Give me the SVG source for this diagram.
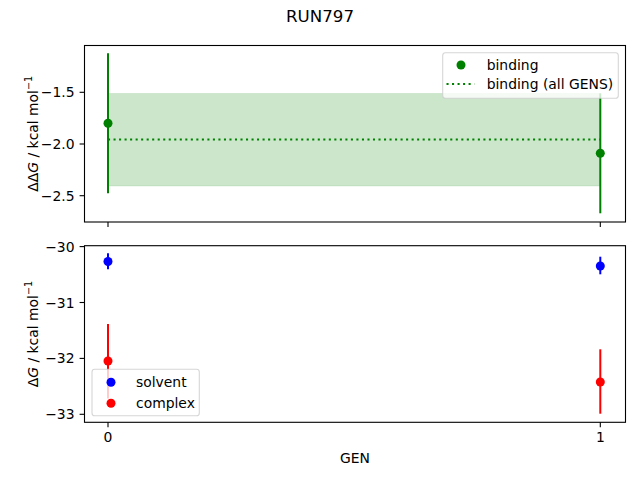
<svg xmlns="http://www.w3.org/2000/svg" width="640" height="480" viewBox="0 0 640 480">
<style>
text{font-family:"DejaVu Sans","Liberation Sans",sans-serif;font-size:13.9px;fill:#000}
.yt{text-anchor:end}
.xt{text-anchor:middle}
.frame{fill:none;stroke:#000;stroke-width:1.1}
.tick{stroke:#000;stroke-width:1.1}
.leg{fill:#fff;fill-opacity:0.8;stroke:#ccc;stroke-opacity:0.8;stroke-width:1.1}
.eb{stroke-width:2}
</style>
<rect width="640" height="480" fill="#fff"/>
<text x="320" y="21.5" text-anchor="middle" style="font-size:16.67px">RUN797</text>

<g id="top-axes">
  <rect x="108" y="93.5" width="492" height="92.5" fill="#008000" fill-opacity="0.2" stroke="#008000" stroke-opacity="0.1" stroke-width="1"/>
  <g id="top-data">
    <line class="eb" x1="108" y1="53.3" x2="108" y2="193.3" stroke="#008000"/>
    <line class="eb" x1="600.3" y1="93.3" x2="600.3" y2="213.3" stroke="#008000"/>
    <circle cx="108" cy="123.3" r="4.5" fill="#008000"/>
    <circle cx="600.3" cy="153.3" r="4.5" fill="#008000"/>
    <line x1="108" y1="139.5" x2="600.3" y2="139.5" stroke="#008000" stroke-width="2.08" stroke-dasharray="2.08 3.44"/>
  </g>
  <rect class="frame" x="84.5" y="45.5" width="541" height="176.5"/>
  <g class="tick">
    <line x1="84.5" y1="92.3" x2="79.6" y2="92.3"/>
    <line x1="84.5" y1="144" x2="79.6" y2="144"/>
    <line x1="84.5" y1="195.7" x2="79.6" y2="195.7"/>
    <line x1="108" y1="222" x2="108" y2="226.9"/>
    <line x1="600.3" y1="222" x2="600.3" y2="226.9"/>
  </g>
  <text class="yt" x="74.5" y="97.3">−1.5</text>
  <text class="yt" x="74.5" y="149">−2.0</text>
  <text class="yt" x="74.5" y="200.7">−2.5</text>
  <text transform="translate(37.5,133.7) rotate(-90)" text-anchor="middle">ΔΔ<tspan font-style="italic">G</tspan> / kcal mol<tspan dy="-6" style="font-size:9.7px">−1</tspan></text>
  <g id="top-legend">
    <rect class="leg" x="442.7" y="52.7" width="175.6" height="45.6" rx="2.8"/>
    <circle cx="461" cy="65" r="4.5" fill="#008000"/>
    <line x1="446.5" y1="84" x2="474.3" y2="84" stroke="#008000" stroke-width="2.08" stroke-dasharray="2.08 3.44"/>
    <text x="486.7" y="69.7">binding</text>
    <text x="486.7" y="89.3">binding (all GENS)</text>
  </g>
</g>

<g id="bottom-axes">
  <g id="bottom-data">
    <line class="eb" x1="108" y1="253.3" x2="108" y2="269.3" stroke="#0000ff"/>
    <line class="eb" x1="600.3" y1="256.7" x2="600.3" y2="274.3" stroke="#0000ff"/>
    <circle cx="108" cy="261.5" r="4.5" fill="#0000ff"/>
    <circle cx="600.3" cy="266" r="4.5" fill="#0000ff"/>
    <line class="eb" x1="108" y1="324" x2="108" y2="398.5" stroke="#ff0000"/>
    <line class="eb" x1="600.3" y1="349.3" x2="600.3" y2="413.7" stroke="#ff0000"/>
    <circle cx="108" cy="361" r="4.5" fill="#ff0000"/>
    <circle cx="600.3" cy="382" r="4.5" fill="#ff0000"/>
  </g>
  <rect class="frame" x="84.5" y="245.7" width="541" height="176.6"/>
  <g class="tick">
    <line x1="84.5" y1="246.6" x2="79.6" y2="246.6"/>
    <line x1="84.5" y1="302.5" x2="79.6" y2="302.5"/>
    <line x1="84.5" y1="358.4" x2="79.6" y2="358.4"/>
    <line x1="84.5" y1="414.3" x2="79.6" y2="414.3"/>
    <line x1="108" y1="422.3" x2="108" y2="427.2"/>
    <line x1="600.3" y1="422.3" x2="600.3" y2="427.2"/>
  </g>
  <text class="yt" x="74.5" y="251.6">−30</text>
  <text class="yt" x="74.5" y="307.5">−31</text>
  <text class="yt" x="74.5" y="363.4">−32</text>
  <text class="yt" x="74.5" y="419.3">−33</text>
  <text class="xt" x="108" y="442">0</text>
  <text class="xt" x="600.3" y="442">1</text>
  <text class="xt" x="355" y="462.5">GEN</text>
  <text transform="translate(37.5,334) rotate(-90)" text-anchor="middle">Δ<tspan font-style="italic">G</tspan> / kcal mol<tspan dy="-6" style="font-size:9.7px">−1</tspan></text>
  <g id="bottom-legend">
    <rect class="leg" x="92" y="369.3" width="107.3" height="46.4" rx="2.8"/>
    <circle cx="111" cy="382.3" r="4.5" fill="#0000ff"/>
    <circle cx="111" cy="403.3" r="4.5" fill="#ff0000"/>
    <text x="136" y="386.5">solvent</text>
    <text x="136" y="407.5">complex</text>
  </g>
</g>
</svg>
